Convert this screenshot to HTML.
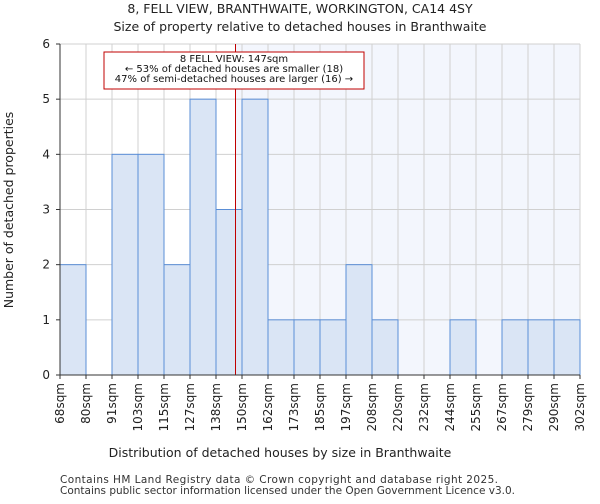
<!DOCTYPE html>
<html><head><meta charset="utf-8"><style>
body{margin:0;background:#fff;font-family:"DejaVu Sans","Liberation Sans",sans-serif}
text{font-family:"DejaVu Sans","Liberation Sans",sans-serif}
</style></head><body>
<svg id="chart" width="600" height="500" xmlns="http://www.w3.org/2000/svg">
<text x="300" y="13" text-anchor="middle" font-size="12.5" fill="#222">8, FELL VIEW, BRANTHWAITE, WORKINGTON, CA14 4SY</text>
<text x="300" y="31" text-anchor="middle" font-size="12.5" fill="#222">Size of property relative to detached houses in Branthwaite</text>
<g id="plot"></g>
<text x="280" y="457" text-anchor="middle" font-size="12.5" fill="#222">Distribution of detached houses by size in Branthwaite</text>
<text transform="translate(13,210) rotate(-90)" text-anchor="middle" font-size="12.5" fill="#222">Number of detached properties</text>
<text x="60" y="483" font-size="10.5" fill="#333" textLength="438">Contains HM Land Registry data © Crown copyright and database right 2025.</text>
<text x="60" y="494" font-size="10.5" fill="#333" textLength="455">Contains public sector information licensed under the Open Government Licence v3.0.</text>
</svg>
<script>
const binLabels=["68sqm","80sqm","91sqm","103sqm","115sqm","127sqm","138sqm","150sqm","162sqm","173sqm","185sqm","197sqm","208sqm","220sqm","232sqm","244sqm","255sqm","267sqm","279sqm","290sqm","302sqm"];
const binEdges=[68,80,91,103,115,127,138,150,162,173,185,197,208,220,232,244,255,267,279,290,302];
const counts=[2,0,4,4,2,5,3,5,1,1,1,2,1,0,0,1,0,1,1,1];
const yTicks=[0,1,2,3,4,5,6];
const propertySize=147;
const ns="http://www.w3.org/2000/svg";
const X0=60,X1=580,Y0=375,Y1=44,N=counts.length,bw=(X1-X0)/N;
const xIdx=i=>X0+i*bw;
const y=v=>Y0-(Y0-Y1)*v/6;
function xVal(v){for(let i=0;i<binEdges.length-1;i++){if(v<=binEdges[i+1])return xIdx(i)+bw*(v-binEdges[i])/(binEdges[i+1]-binEdges[i]);}return X1;}
const g=document.getElementById('plot');
function el(t,a){const e=document.createElementNS(ns,t);for(const k in a)e.setAttribute(k,a[k]);g.appendChild(e);return e;}
const px=xVal(propertySize);
let r=el('rect',{x:px,y:Y1,width:X1-px,height:Y0-Y1,fill:'#f3f6fd'});


for(let i=0;i<=N;i++){let l=el('line',{x1:xIdx(i),x2:xIdx(i),y1:Y1,y2:Y0,stroke:'#d0d0d0','stroke-width':1});

}
yTicks.forEach(t=>{let l=el('line',{x1:X0,x2:X1,y1:y(t),y2:y(t),stroke:'#d0d0d0','stroke-width':1});


let k=el('line',{x1:X0-4,x2:X0,y1:y(t),y2:y(t),stroke:'#333'});


let tx=el('text',{x:X0-10,y:y(t)+4,'text-anchor':'end','font-size':12,fill:'#222'});tx.textContent=t;

});
counts.forEach((c,i)=>{if(c<=0)return;let b=el('rect',{x:xIdx(i),y:y(c),width:bw,height:Y0-y(c),fill:'#dae5f5',stroke:'#5a8ed6','stroke-width':1});

});
binLabels.forEach((s,i)=>{const xx=xIdx(i);let k=el('line',{x1:xx,x2:xx,y1:Y0,y2:Y0+4,stroke:'#333'});


let tx=el('text',{transform:`translate(${xx+4},${Y0+8}) rotate(-90)`,'text-anchor':'end','font-size':12,fill:'#222'});tx.textContent=s;

});
let pl=el('line',{x1:px,x2:px,y1:Y1,y2:Y0,stroke:'#c00000','stroke-width':1});


let bx=el('rect',{x:104,y:52,width:260,height:37,fill:'#fff',stroke:'#c00000','stroke-width':1});


["8 FELL VIEW: 147sqm","← 53% of detached houses are smaller (18)","47% of semi-detached houses are larger (16) →"].forEach((s,i)=>{let t=el('text',{x:234,y:62+i*10,'text-anchor':'middle','font-size':10,fill:'#111'});t.textContent=s;

});
let ax=el('line',{x1:X0,x2:X0,y1:Y1,y2:Y0,stroke:'#333'});


let ax2=el('line',{x1:X0,x2:X1,y1:Y0,y2:Y0,stroke:'#333'});


</script>
</body></html>
